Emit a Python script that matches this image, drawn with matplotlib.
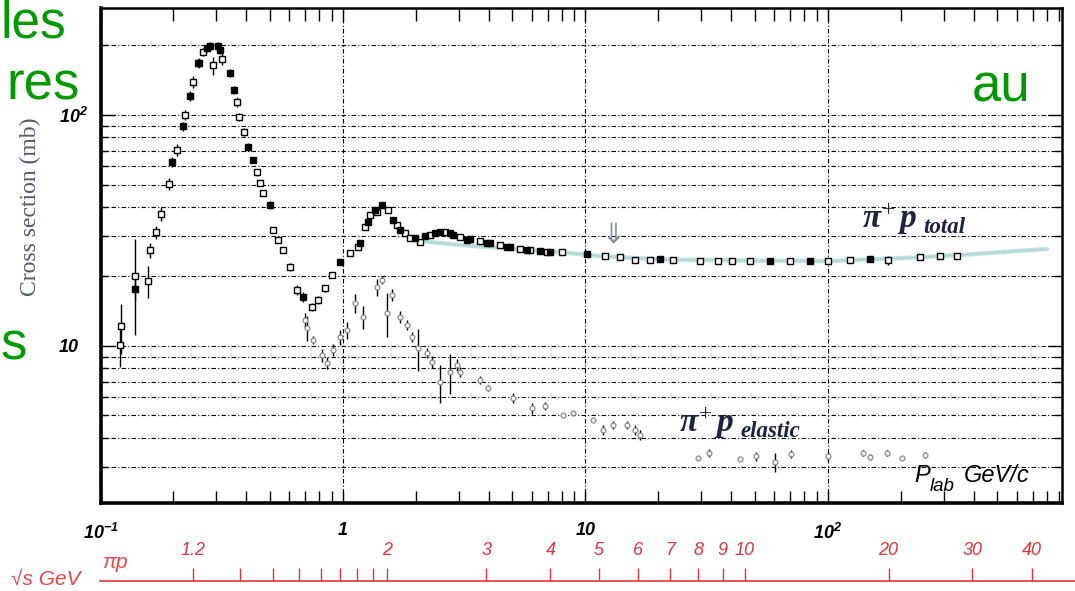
import numpy as np
import matplotlib
matplotlib.use("Agg")
import matplotlib.pyplot as plt
from matplotlib.ticker import LogLocator, NullFormatter, NullLocator

plt.rcParams['mathtext.fontset'] = 'custom'
plt.rcParams['mathtext.bf'] = 'Liberation Sans:bold:italic'
plt.rcParams['mathtext.it'] = 'Liberation Serif:bold:italic'
plt.rcParams['mathtext.rm'] = 'Liberation Serif'

# ---------------- data ----------------
# pi+ p total cross section, open squares
total_open_p = [0.120, 0.121, 0.139, 0.157, 0.160, 0.169, 0.178, 0.192, 0.207, 0.223,
                0.241, 0.252, 0.265, 0.291, 0.317, 0.366, 0.373, 0.391, 0.442, 0.455,
                0.468, 0.514, 0.540, 0.566, 0.605, 0.646, 0.745, 0.789, 0.843, 0.901,
                1.069, 1.153, 1.232, 1.292, 1.381, 1.533, 1.670, 1.802, 1.889, 2.077,
                2.285, 2.634, 3.038, 3.672, 4.440, 5.370, 5.904, 6.937, 8.000, 12.03,
                13.88, 16.00, 18.45, 22.96, 29.66, 35.19, 40.19, 47.7, 69.7, 100.0,
                123.2, 177.0, 239.5, 289.6, 340.4]
total_open_sigma = [10.1, 12.2, 20.1, 19.1, 26.0, 31.1, 37.3, 50.3, 70.6, 100.0,
                    139.0, 168.0, 187.5, 164.0, 175.0, 114.0, 98.0, 84.4, 56.6, 50.8,
                    45.9, 31.8, 28.8, 26.0, 22.0, 17.5, 14.75, 15.8, 17.8, 20.3,
                    25.3, 26.8, 32.7, 36.9, 38.0, 38.8, 33.4, 30.9, 29.3, 28.2,
                    30.2, 31.2, 29.6, 28.5, 27.3, 26.3, 26.0, 25.5, 25.5, 24.5,
                    24.3, 23.6, 23.6, 23.6, 23.3, 23.3, 23.3, 23.3, 23.3, 23.3,
                    23.5, 23.5, 24.3, 24.4, 24.5]
total_open_err = [2.0, 3.0, 9.0, 3.0, 2.0, 2.0, 2.5, 3.0, 4.0, 5.0,
                  8.0, 6.0, 8.0, 15.0, 10.0, 6.0, 4.0, 3.0, 2.0, 1.5,
                  1.5, 1.0, 1.0, 0.8, 0.8, 0.8, 0.6, 0.6, 0.6, 0.6,
                  0.6, 0.6, 0.6, 0.6, 0.6, 0.6, 0.6, 0.5, 0.5, 0.4,
                  0.4, 0.4, 0.4, 0.3, 0.3, 0.3, 0.3, 0.3, 0.3, 0.3,
                  0.3, 0.3, 0.3, 0.3, 0.2, 0.2, 0.2, 0.2, 0.2, 0.2,
                  0.2, 1.0, 0.2, 0.2, 0.2]
# pi+ p total cross section, filled squares
total_filled_p = [0.139, 0.197, 0.219, 0.234, 0.255, 0.275, 0.283, 0.305, 0.311, 0.342,
                  0.355, 0.406, 0.425, 0.500, 0.684, 0.972, 1.175, 1.268, 1.355, 1.448,
                  1.608, 1.718, 1.981, 2.178, 2.395, 2.512, 2.762, 2.842, 3.246, 3.340,
                  3.925, 4.039, 4.747, 4.883, 5.740, 6.492, 7.139, 10.14, 20.29, 57.7,
                  84.3, 149.0]
total_filled_sigma = [17.6, 62.6, 89.6, 121.0, 168.0, 195.0, 198.0, 198.0, 191.0, 152.0,
                      128.0, 72.7, 63.9, 40.8, 16.3, 23.1, 27.9, 34.4, 38.8, 40.8,
                      35.1, 31.8, 29.3, 29.9, 30.9, 31.0, 30.9, 30.2, 28.8, 29.05,
                      27.9, 27.9, 26.8, 26.8, 26.0, 25.8, 25.5, 25.0, 23.8, 23.3,
                      23.3, 23.8]
total_filled_err = [2.0, 3.0, 4.0, 6.0, 8.0, 8.0, 8.0, 8.0, 8.0, 6.0,
                    5.0, 3.0, 2.0, 1.5, 0.8, 0.6, 0.6, 0.6, 0.8, 0.8,
                    0.6, 0.6, 0.5, 0.5, 0.5, 0.5, 0.5, 0.4, 0.4, 0.4,
                    0.3, 0.3, 0.3, 0.3, 0.3, 0.3, 0.3, 0.3, 0.2, 0.2,
                    0.2, 0.2]

# fit curve for the total cross section (cyan)
fit_p = [2.2, 3.0, 4.4, 7.8, 11.5, 20.0, 50.0, 100.0, 240.0, 400.0, 800.0]
fit_sigma = [28.3, 27.4, 26.6, 25.5, 24.5, 23.7, 23.4, 23.3, 24.2, 25.0, 26.3]

# pi+ p elastic cross section
elastic_p = [0.697, 0.710, 0.752, 0.819, 0.859, 0.909, 0.972, 1.039, 1.121, 1.209,
             1.381, 1.448, 1.518, 1.592, 1.718, 1.836, 1.926, 2.038, 2.220, 2.328,
             2.512, 2.762, 2.952, 3.038, 3.672, 3.963, 5.023, 6.017, 6.808, 8.076,
             8.882, 10.74, 11.81, 12.98, 14.83, 16.00, 16.78, 29.1, 32.3, 43.4,
             50.5, 60.4, 70.4, 100.0, 139.4, 149.0, 175.1, 202.0, 251.0]
elastic_sigma = [12.95, 11.97, 10.6, 9.14, 8.44, 9.61, 10.94, 11.73, 15.36, 13.35,
                 18.0, 19.3, 13.9, 16.6, 13.35, 12.33, 10.94, 9.80, 9.33, 8.53,
                 6.99, 7.72, 8.27, 7.72, 7.13, 6.58, 5.96, 5.39, 5.50, 5.03,
                 5.12, 4.78, 4.33, 4.55, 4.55, 4.33, 4.12, 3.27, 3.44, 3.24,
                 3.34, 3.15, 3.41, 3.34, 3.44, 3.31, 3.44, 3.27, 3.37]
elastic_err = [1.0, 1.5, 0.4, 0.6, 0.5, 0.6, 0.8, 1.0, 1.5, 1.5,
               1.5, 0.8, 3.0, 1.0, 0.8, 0.6, 0.5, 2.0, 0.5, 0.5,
               1.3, 1.5, 0.5, 0.4, 0.3, 0.2, 0.3, 0.3, 0.2, 0.1,
               0.1, 0.1, 0.2, 0.2, 0.2, 0.2, 0.2, 0.05, 0.15, 0.05,
               0.15, 0.3, 0.15, 0.15, 0.1, 0.1, 0.1, 0.05, 0.1]

# sqrt(s) scale
sqrts_ticks = [1.2, 1.3, 1.4, 1.5, 1.6, 1.7, 1.8, 1.9, 2, 3, 4, 5, 6, 7, 8, 9, 10, 20, 30, 40]
sqrts_labels = ['1.2', '', '', '', '', '', '', '', '2', '3', '4', '5', '6', '7', '8', '9',
                '10', '20', '30', '40']

x_ticks = [0.1, 1, 10, 100]
x_ticklabels = [r'$\mathbf{10^{-1}}$', '1', '10', r'$\mathbf{10^{2}}$']
y_ticks = [10, 100]
y_ticklabels = ['10', r'$\mathbf{10^{2}}$']

M_PI = 0.13957
M_P = 0.93827


def plab_from_sqrts(rs):
    s = np.asarray(rs, dtype=float) ** 2
    e = (s - M_PI ** 2 - M_P ** 2) / (2 * M_P)
    return np.sqrt(e ** 2 - M_PI ** 2)


W, H = 1075, 591


def fx(x):
    return x / W


def fy(y):
    return 1 - y / H


fig = plt.figure(figsize=(W / 100, H / 100), dpi=100)
ax = fig.add_axes([fx(100.5), fy(503), (1062 - 100.5) / W, 495 / H])
ax.set_xscale('log')
ax.set_yscale('log')
ax.set_xlim(0.1, 923)
ax.set_ylim(2.09, 290.5)

gls = (0, (4, 2, 1, 2))
ax.xaxis.grid(True, which='major', color='black', lw=0.8, linestyle=gls)
ax.yaxis.grid(True, which='both', color='black', lw=0.8, linestyle=gls)
ax.set_axisbelow(True)

ax.xaxis.set_minor_locator(LogLocator(base=10, subs=np.arange(2, 10), numticks=30))
ax.xaxis.set_minor_formatter(NullFormatter())
ax.yaxis.set_minor_locator(LogLocator(base=10, subs=np.arange(2, 10), numticks=30))
ax.yaxis.set_minor_formatter(NullFormatter())
ax.set_xticks(x_ticks)
ax.set_xticklabels(x_ticklabels, fontsize=13, fontweight='bold', fontstyle='italic',
                   family='Liberation Sans')
ax.set_yticks(y_ticks)
ax.set_yticklabels(y_ticklabels, fontsize=13, fontweight='bold', fontstyle='italic',
                   family='Liberation Sans')
for lbl in ax.get_yticklabels():
    lbl.set_horizontalalignment('left')
ax.tick_params(axis='x', which='both', direction='in', top=True, bottom=True,
               length=9, width=1)
ax.tick_params(axis='x', which='major', pad=14)
ax.tick_params(axis='y', which='major', direction='in', left=True, right=True,
               length=10, width=1, pad=30)
ax.tick_params(axis='y', which='minor', direction='in', left=True, right=True,
               length=5, width=1)
for side, lw in (('left', 2.6), ('bottom', 2.6), ('top', 1.8), ('right', 1.8)):
    ax.spines[side].set_linewidth(lw)

# fit band
ax.plot(fit_p, fit_sigma, color='#bfe2e2', lw=3.2, zorder=3, solid_capstyle='round')
ax.plot(fit_p, fit_sigma, color='#8fb5b5', lw=0.7, ls=(0, (1, 1.5)), zorder=3)

# total cross section
ax.errorbar(total_open_p, total_open_sigma, yerr=total_open_err, fmt='s', ms=4.3,
            mfc='white', mec='black', mew=1.0, ecolor='black', elinewidth=1,
            capsize=0, zorder=4)
ax.errorbar(total_filled_p, total_filled_sigma, yerr=total_filled_err, fmt='s', ms=4.3,
            mfc='black', mec='black', mew=1.0, ecolor='black', elinewidth=1,
            capsize=0, zorder=4)

# elastic cross section
ax.errorbar(elastic_p, elastic_sigma, yerr=elastic_err, fmt='o', ms=3.5,
            mfc='white', mec='#8a8a8a', mew=0.9, ecolor='black', elinewidth=1,
            capsize=0, zorder=4)

# labels on the plot
lab_col = '#1c2340'
fig.text(fx(862), fy(228), r'$\pi^{+}\,p$', fontsize=24, color=lab_col,
         va='baseline', ha='left')
fig.text(fx(923), fy(233), 'total', fontsize=16.5, color=lab_col, weight='bold',
         style='italic', family='Liberation Serif', va='baseline', ha='left')
fig.text(fx(679), fy(432), r'$\pi^{+}\,p$', fontsize=24, color=lab_col,
         va='baseline', ha='left')
fig.text(fx(740), fy(437), 'elastic', fontsize=16.5, color=lab_col, weight='bold',
         style='italic', family='Liberation Serif', va='baseline', ha='left')
fig.text(fx(914), fy(482), 'P', fontsize=17, style='italic', family='Liberation Sans',
         va='baseline', ha='left')
fig.text(fx(930), fy(491), 'lab', fontsize=13.5, style='italic', family='Liberation Sans',
         va='baseline', ha='left')
fig.text(fx(964), fy(482), 'GeV/c', fontsize=17, style='italic', family='Liberation Sans',
         va='baseline', ha='left')
fig.text(fx(613), fy(243), '\u21d3', fontsize=20, color='#7d8ca4', family='DejaVu Sans',
         va='baseline', ha='center')

fig.text(fx(30), fy(207), 'Cross section (mb)', rotation=90, family='Liberation Serif',
         fontsize=17, color='#4f5a6a', ha='center', va='center')

# sqrt(s) strip
red = '#e2343c'
sax = fig.add_axes([fx(100), fy(581), 975 / W, 18 / H])
sax.set_xscale('log')
sax.set_xlim(0.1024, 1295)
sax.set_ylim(0, 1)
for side in ('top', 'left', 'right'):
    sax.spines[side].set_visible(False)
sax.spines['bottom'].set_color(red)
sax.spines['bottom'].set_linewidth(1.2)
sax.patch.set_alpha(0)
sax.set_xticks(plab_from_sqrts(sqrts_ticks))
sax.set_xticklabels(sqrts_labels, fontsize=13, style='italic', family='Liberation Sans')
sax.xaxis.set_minor_locator(NullLocator())
sax.set_yticks([])
sax.tick_params(axis='x', which='major', direction='in', bottom=True, top=False,
                length=9.5, width=1, color=red, labelbottom=False, labeltop=True,
                pad=3, labelcolor=red)
fig.text(fx(11), fy(585), '\u221as GeV', fontsize=15, style='italic',
         family='Liberation Sans', color='#e8454c', va='baseline', ha='left')
fig.text(fx(102), fy(568), '\u03c0p', fontsize=15, style='italic',
         family='Liberation Sans', color='#e8454c', va='baseline', ha='left')

# slide text fragments
green = '#009a00'
fig.text(fx(0), fy(38), 'les', fontsize=37, color=green, family='Liberation Sans',
         ha='left', va='baseline', zorder=10)
fig.text(fx(80), fy(100), 'res', fontsize=38, color=green, family='Liberation Sans',
         ha='right', va='baseline', zorder=10)
fig.text(fx(0), fy(360), 's', fontsize=38, color=green, family='Liberation Sans',
         ha='left', va='baseline', zorder=10)
fig.text(fx(972), fy(102), 'au', fontsize=38, color=green, family='Liberation Sans',
         ha='left', va='baseline', zorder=10)

fig.savefig('out.png', dpi=100)
